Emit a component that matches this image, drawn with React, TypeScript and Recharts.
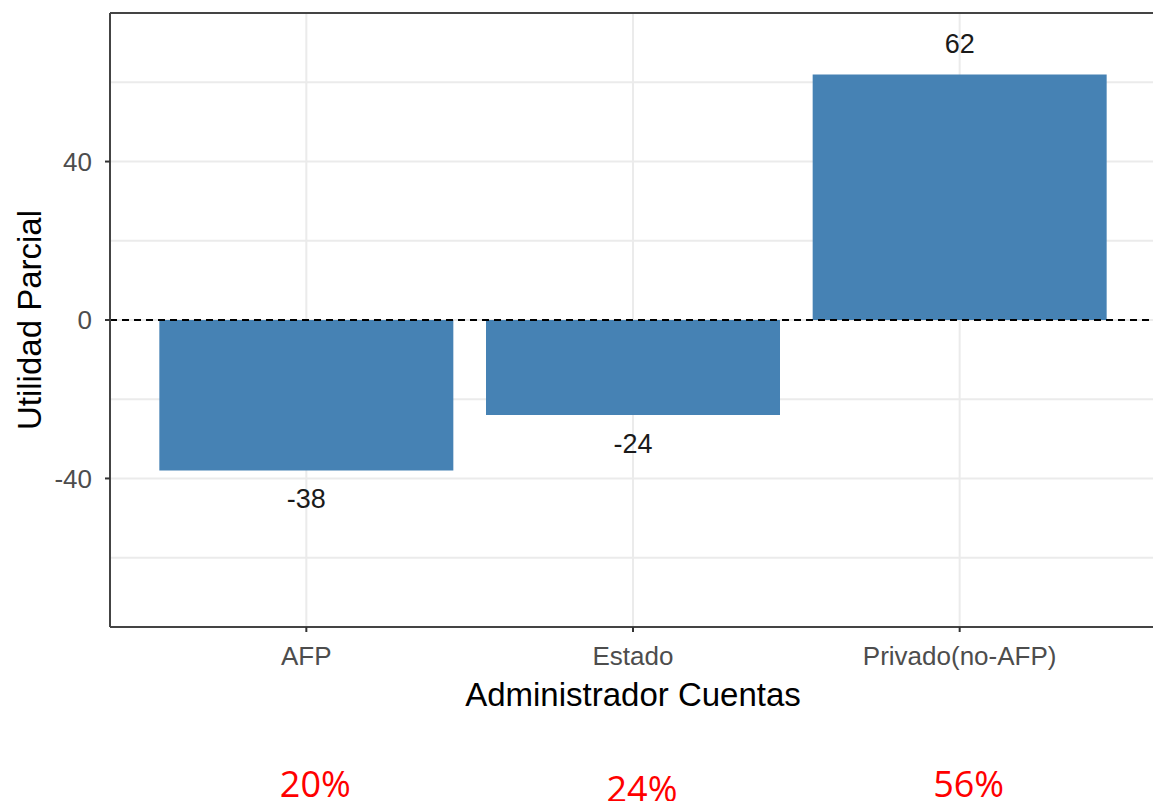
import React from "react";
import {
  BarChart,
  Bar,
  XAxis,
  YAxis,
  CartesianGrid,
  ReferenceLine,
  LabelList,
} from "recharts";

const categories = ["AFP", "Estado", "Privado(no-AFP)"];
const utilidad = [-38, -24, 62];
const shares = ["20%", "24%", "56%"];
const yTicks = [-40, 0, 40];
const gridValues = [-60, -40, -20, 0, 20, 40, 60];
const yDomain = [-77.5, 77.5];

const data = categories.map((c, i) => ({ name: c, value: utilidad[i], share: shares[i] }));

const border = { stroke: "#444", strokeWidth: 2 };

const AxisTick = (props: any) => {
  const { x, y, payload, index } = props;
  const i = typeof index === "number" ? index : categories.indexOf(payload.value);
  // the middle percentage sits a bit lower in the original
  const extra = i === 1 ? 5 : 0;
  return (
    <g>
      <text x={x} y={y} dy={31} textAnchor="middle" fill="#4d4d4d" fontSize={26}>
        {payload.value}
      </text>
      <text
        x={x + 9}
        y={y}
        dy={163 + extra}
        textAnchor="middle"
        fill="#ff0000"
        fontSize={36}
        fontFamily="'Open Sans', sans-serif"
      >
        {shares[i]}
      </text>
    </g>
  );
};

const BarValue = (props: any) => {
  const { x, y, width, height, value } = props;
  const top = Math.min(y, y + height);
  const bottom = Math.max(y, y + height);
  const cy = value >= 0 ? top - 31 : bottom + 28;
  return (
    <text x={x + width / 2} y={cy} dy="0.36em" textAnchor="middle" fill="#1a1a1a" fontSize={27}>
      {value}
    </text>
  );
};

export default function App() {
  return (
    <div
      style={{
        position: "absolute",
        left: 0,
        top: 0,
        width: 1153,
        height: 801,
        overflow: "hidden",
        background: "#fff",
        fontFamily: "'Liberation Sans', Arial, sans-serif",
      }}
    >
      <BarChart
        width={1160}
        height={801}
        data={data}
        margin={{ top: 13, right: 4, left: 10, bottom: 0 }}
        barCategoryGap="5%"
      >
        <CartesianGrid stroke="#ebebeb" strokeWidth={2} horizontalValues={gridValues} />
        <XAxis
          dataKey="name"
          height={174}
          padding={{ left: 33, right: 33 }}
          axisLine={border}
          tickSize={5}
          tickMargin={2}
          tickLine={{ stroke: "#333", strokeWidth: 2 }}
          tick={<AxisTick />}
          interval={0}
          label={{
            value: "Administrador Cuentas",
            position: "insideTop",
            offset: 56,
            fill: "#000",
            fontSize: 33,
          }}
        />
        <YAxis
          width={100}
          domain={yDomain}
          ticks={yTicks}
          type="number"
          allowDataOverflow
          axisLine={border}
          tickSize={5}
          tickMargin={13}
          tickLine={{ stroke: "#333", strokeWidth: 2 }}
          tick={{ fill: "#4d4d4d", fontSize: 26 }}
          label={{
            value: "Utilidad Parcial",
            angle: -90,
            position: "insideLeft",
            offset: 19,
            fill: "#000",
            fontSize: 33,
            style: { textAnchor: "middle" },
          }}
        />
        <Bar dataKey="value" fill="#4682b4" isAnimationActive={false}>
          <LabelList dataKey="value" content={<BarValue />} />
        </Bar>
        <ReferenceLine y={0} stroke="#000" strokeWidth={2} strokeDasharray="7 5" />
        <ReferenceLine y={yDomain[1]} {...border} ifOverflow="visible" />
      </BarChart>
    </div>
  );
}
